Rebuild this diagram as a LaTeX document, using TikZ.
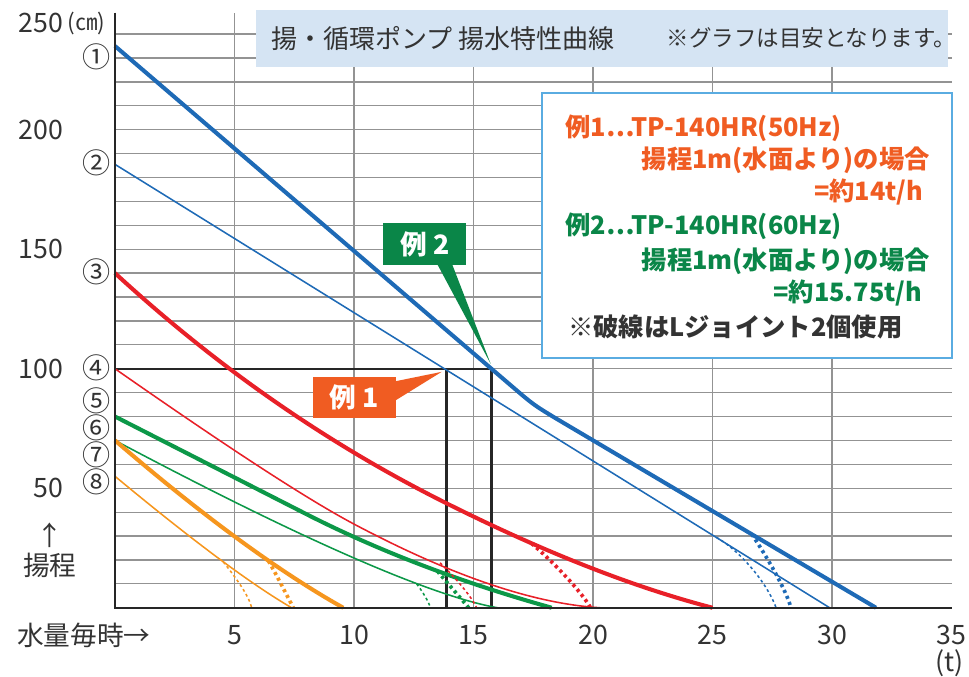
\documentclass[tikz,border=0pt]{standalone}
\usepackage{fontspec}
\setmainfont{Noto Sans CJK JP}
\usetikzlibrary{calc}

\definecolor{pumpblue}{RGB}{30,106,182}
\definecolor{pumpred}{RGB}{232,32,40}
\definecolor{pumpgreen}{RGB}{12,152,72}
\definecolor{pumporange}{RGB}{246,150,30}
\definecolor{exonecol}{RGB}{240,92,34}
\definecolor{extwocol}{RGB}{10,134,72}
\definecolor{titlefill}{RGB}{213,228,243}
\definecolor{infoline}{RGB}{90,172,225}
\definecolor{labelgray}{RGB}{51,51,51}

\newcommand\sizeaxis{\fontsize{19pt}{22pt}\selectfont}
\newcommand\sizeunit{\fontsize{16pt}{18pt}\selectfont}
\newcommand\sizecirc{\fontsize{20pt}{22pt}\selectfont}
\newcommand\sizetitle{\fontsize{18.5pt}{21pt}\selectfont}
\newcommand\sizenote{\fontsize{16pt}{18pt}\selectfont}
\newcommand\sizeinfo{\fontsize{18pt}{21pt}\selectfont}
\newcommand\sizeex{\fontsize{19pt}{22pt}\selectfont}

\tikzset{
	gridline/.style={gray!85, line width=0.9pt},
	axisline/.style={black!85, line width=1.5pt},
	opline/.style={black!85, line width=1.6pt},
	thickcurve/.style={line width=2.9pt},
	thincurve/.style={line width=1.1pt},
	thickdots/.style={line width=2.6pt, dash pattern=on 2.2pt off 2.4pt},
	thindots/.style={line width=1.1pt, dash pattern=on 2pt off 2pt},
	ylab/.style={font=\sizeaxis, text=labelgray, anchor=east, inner sep=0pt},
	xlab/.style={font=\sizeaxis, text=labelgray, inner sep=0pt},
	circlab/.style={font=\sizecirc, text=labelgray, inner sep=0pt, text height=15pt, text depth=2pt},
	exbox/.style={text=white, font=\sizeex\bfseries, minimum width=2.08cm, minimum height=1.04cm, inner sep=0pt},
	infotext/.style={font=\sizeinfo\bfseries, inner sep=0pt},
}

\begin{document}
\begin{tikzpicture}[x=0.5975cm, y=0.05975cm]
	\useasboundingbox (-4.8117,-28.58) rectangle (35.732,254.27);
	% grid
	\foreach \v in {10,20,...,240}
		\draw[gridline] (0,\v) -- (35,\v);
	\foreach \t in {5,10,...,30}
		\draw[gridline] (\t,0) -- (\t,249);

	% reading lines for the examples
	\coordinate (op0) at (0,100);
	\coordinate (op1) at (13.87,100);
	\coordinate (op2) at (15.75,100);
	\draw[opline] (op0) -- (op2);
	\draw[opline] (op1) -- (op1 |- 0,0);
	\draw[opline] (op2) -- (op2 |- 0,0);

	% curves 1 - 8
	\draw[thickcurve, pumpblue] (0,235) -- (16.6,92.7) .. controls (17.5,85) .. (18.4,79.5) -- (31.84,0);
	\draw[thincurve, pumpblue] (0,185.5) -- (29.9,0);
	\draw[thickcurve, pumpred] (0,140) .. controls (4.28,100.6) and (8.90,68.5) .. (13.87,43.7) .. controls (17.97,23.2) and (21.68,8.63) .. (25,0);
	\draw[thincurve, pumpred] (0,100) .. controls (4.71,67.1) and (8.04,45.4) .. (10,35) .. controls (14.09,13.33) and (17.52,1.67) .. (20.3,0);
	\draw[thickcurve, pumpgreen] (0,80) -- (8,39.2) .. controls (11.03,23.77) and (14.45,10.7) .. (18.27,0);
	\draw[thincurve, pumpgreen] (0,70) .. controls (7.85,28.4) and (13.18,5.07) .. (16,0);
	\draw[thickcurve, pumporange] (0,70) .. controls (3.67,38.4) and (6.86,15.07) .. (9.55,0);
	\draw[thincurve, pumporange] (0,55) .. controls (3.24,28.13) and (5.7,9.8) .. (7.39,0);

	% with two L joints
	\draw[thindots, pumporange] (4.53,19.2) .. controls (5.1,12) and (5.6,5) .. (5.72,0);
	\draw[thickdots, pumporange] (6.42,19.6) .. controls (6.8,13) and (7.2,5) .. (7.46,0);
	\draw[thindots, pumpred] (13.6,18.8) .. controls (14.2,13) and (14.9,5) .. (15.13,0);
	\draw[thickdots, pumpred] (17.43,26.9) .. controls (18.3,19.5) and (19.5,7) .. (19.9,0);
	\draw[thindots, pumpgreen] (12.62,10) .. controls (12.85,7) and (13.1,3) .. (13.2,0);
	\draw[thickdots, pumpgreen] (13.49,15.3) .. controls (13.9,10.5) and (14.5,3.5) .. (14.8,0);
	\draw[thindots, pumpblue] (25.17,29.4) .. controls (26.2,23.5) and (27.3,10) .. (27.66,0);
	\draw[thickdots, pumpblue] (26.64,30.8) .. controls (27.3,21) and (28.1,7) .. (28.28,0);

	% axes
	\draw[axisline] (0,249) -- (0,0) -- (35,0);

	% axis labels
	\node[ylab] (yl250) at (-2.155,244.6) {250};
	\node[font=\sizeunit, text=labelgray, anchor=west, inner sep=0pt] (ylunit) at ([xshift=0.1cm]yl250.east) {(㎝)};
	\foreach \v in {200,150,100,50}
		\node[ylab] (yl\v) at (-2.155,\v) {\v};
	\foreach \lab/\v [count=\i] in {①/230,②/185.5,③/139.9,④/99.9,⑤/85.9,⑥/74.6,⑦/63.2,⑧/52}
		\node[circlab] (curve\i) at (-0.753,\v) {\lab};
	\node[font=\sizeaxis, text=labelgray, inner sep=0pt] (uparrow) at (-2.72,30.4) {↑};
	\node[font=\sizeaxis, text=labelgray, inner sep=0pt] (headlab) at (-2.72,17.9) {揚程};
	\foreach \t in {5,10,...,35}
		\node[xlab] (xl\t) at (\t,-11.4) {\t};
	\node[font=\sizeaxis, text=labelgray, anchor=west, inner sep=0pt] (flowlab) at (-4.11,-11.4) {水量毎時→};
	\node[xlab] (tunit) at (34.9,-23.2) {(t)};

	% title
	\node[fill=titlefill, minimum width=17.3cm, minimum height=1.425cm, inner sep=0pt] (title) at (20.38,238.2) {};
	\node[font=\sizetitle, text=labelgray, anchor=west, inner sep=0pt] (titletext) at ([xshift=0.375cm]title.west) {揚・循環ポンプ 揚水特性曲線};
	\node[font=\sizenote, text=labelgray, anchor=east, inner sep=0pt] (notetext) at ([xshift=0.2cm]title.east) {※グラフは目安となります。};

	% explanation box
	\node[draw=infoline, fill=white, line width=1.5pt, minimum width=10.25cm, minimum height=6.64cm, inner sep=0pt] (info) at (26.43,159.9) {};
	\node[infotext, text=exonecol, anchor=west] (ex1a) at (18.83,200.6) {例1⋯TP-140HR(50Hz)};
	\node[infotext, text=exonecol, anchor=east] (ex1b) at (34.1,187.3) {揚程1m(水面より)の場合};
	\node[infotext, text=exonecol, anchor=east] (ex1c) at (33.82,174.1) {=約14t/h};
	\node[infotext, text=extwocol, anchor=west] (ex2a) at (18.83,159.4) {例2⋯TP-140HR(60Hz)};
	\node[infotext, text=extwocol, anchor=east] (ex2b) at (34.1,144.8) {揚程1m(水面より)の場合};
	\node[infotext, text=extwocol, anchor=east] (ex2c) at (33.78,131.5) {=約15.75t/h};
	\node[infotext, text=labelgray, anchor=west] (jointnote) at (18.95,117.6) {※破線はLジョイント2個使用};

	% example markers
	\node[exbox, fill=exonecol] (ex1) at (10.015,87.95) {例 1};
	\coordinate (ex1tip) at (13.67,98.7);
	\fill[exonecol] ($(ex1.north east)+(-0.02cm,-0.12cm)$) -- (ex1tip) -- ($(ex1.north east)+(-0.02cm,-0.6cm)$) -- cycle;
	\node[exbox, fill=extwocol] (ex2) at (12.96,152.1) {例 2};
	\coordinate (ex2tip) at (15.72,102);
	\fill[extwocol] ($(ex2.south east)+(-0.73cm,0.02cm)$) -- (ex2tip) -- ($(ex2.south east)+(-0.36cm,0.02cm)$) -- cycle;
\end{tikzpicture}
\end{document}
